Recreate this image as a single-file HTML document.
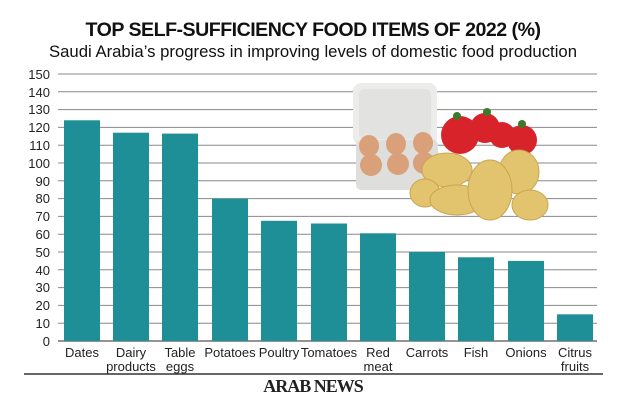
<!DOCTYPE html>
<html><head><meta charset="utf-8"><style>
html,body{margin:0;padding:0;background:#fff;}
svg{display:block;}
text{font-family:"Liberation Sans",sans-serif;}
</style></head><body>
<svg width="626" height="418" viewBox="0 0 626 418" xmlns="http://www.w3.org/2000/svg">
<rect width="626" height="418" fill="#fff"/>
<text x="313" y="36" text-anchor="middle" font-size="19" font-weight="bold" fill="#111" letter-spacing="-0.5" textLength="455" lengthAdjust="spacingAndGlyphs">TOP SELF-SUFFICIENCY FOOD ITEMS OF 2022 (%)</text>
<text x="313" y="57" text-anchor="middle" font-size="16.5" fill="#111" textLength="528" lengthAdjust="spacingAndGlyphs">Saudi Arabia’s progress in improving levels of domestic food production</text>
<g stroke="#888" stroke-width="1">
<line x1="58" y1="74" x2="597" y2="74"/><line x1="58" y1="91.8" x2="597" y2="91.8"/>
<line x1="58" y1="109.6" x2="597" y2="109.6"/><line x1="58" y1="127.4" x2="597" y2="127.4"/>
<line x1="58" y1="145.2" x2="597" y2="145.2"/><line x1="58" y1="163" x2="597" y2="163"/>
<line x1="58" y1="180.8" x2="597" y2="180.8"/><line x1="58" y1="198.6" x2="597" y2="198.6"/>
<line x1="58" y1="216.4" x2="597" y2="216.4"/><line x1="58" y1="234.2" x2="597" y2="234.2"/>
<line x1="58" y1="252" x2="597" y2="252"/><line x1="58" y1="269.8" x2="597" y2="269.8"/>
<line x1="58" y1="287.6" x2="597" y2="287.6"/><line x1="58" y1="305.4" x2="597" y2="305.4"/>
<line x1="58" y1="323.2" x2="597" y2="323.2"/>
</g>
<line x1="58" y1="341" x2="597" y2="341" stroke="#555" stroke-width="1.2"/>
<g font-size="13" fill="#222" text-anchor="end">
<text x="50" y="79">150</text><text x="50" y="97">140</text><text x="50" y="114">130</text>
<text x="50" y="132">120</text><text x="50" y="150">110</text><text x="50" y="168">100</text>
<text x="50" y="186">90</text><text x="50" y="203">80</text><text x="50" y="221">70</text>
<text x="50" y="239">60</text><text x="50" y="257">50</text><text x="50" y="275">40</text>
<text x="50" y="292">30</text><text x="50" y="310">20</text><text x="50" y="328">10</text>
<text x="50" y="346">0</text>
</g>
<g fill="#1e8f96">
<rect x="64" y="120.3" width="36" height="220.7"/>
<rect x="113" y="132.7" width="36" height="208.3"/>
<rect x="162" y="133.6" width="36" height="207.4"/>
<rect x="212" y="198.6" width="36" height="142.4"/>
<rect x="261" y="220.8" width="36" height="120.2"/>
<rect x="311" y="223.5" width="36" height="117.5"/>
<rect x="360" y="233.3" width="36" height="107.7"/>
<rect x="409" y="252" width="36" height="89"/>
<rect x="458" y="257.3" width="36" height="83.7"/>
<rect x="508" y="260.9" width="36" height="80.1"/>
<rect x="557" y="314.3" width="36" height="26.7"/>
</g>
<!-- egg carton -->
<rect x="353" y="83" width="84" height="62" rx="8" fill="#ececea"/>
<rect x="359" y="89" width="72" height="50" rx="5" fill="#e2e2e0"/>
<rect x="356" y="140" width="82" height="50" rx="5" fill="#dededc"/>
<g fill="#d9a07a">
<ellipse cx="369" cy="146" rx="10" ry="11"/><ellipse cx="396" cy="144" rx="10" ry="11"/><ellipse cx="423" cy="143" rx="10" ry="11"/>
<ellipse cx="371" cy="165" rx="11" ry="11"/><ellipse cx="398" cy="164" rx="11" ry="11"/><ellipse cx="424" cy="163" rx="11" ry="11"/>
</g>
<!-- tomatoes -->
<g fill="#d9232a">
<circle cx="485" cy="128" r="15"/><circle cx="502" cy="135" r="13"/>
<circle cx="460" cy="135" r="19"/><circle cx="522" cy="140" r="15"/>
</g>
<g fill="#3a7a2a"><circle cx="457" cy="116" r="4"/><circle cx="487" cy="112" r="4"/><circle cx="522" cy="124" r="4"/></g>
<!-- potatoes -->
<g fill="#e3c46e" stroke="#c9a550" stroke-width="1">
<ellipse cx="447" cy="170" rx="25" ry="17"/>
<ellipse cx="519" cy="172" rx="20" ry="22"/>
<ellipse cx="425" cy="193" rx="15" ry="14"/>
<ellipse cx="457" cy="200" rx="27" ry="15"/>
<ellipse cx="530" cy="205" rx="18" ry="15"/>
<ellipse cx="490" cy="190" rx="22" ry="30"/>
</g>
<g font-size="13" fill="#222" text-anchor="middle">
<text x="82" y="357">Dates</text>
<text x="131" y="357">Dairy</text><text x="131" y="371">products</text>
<text x="180" y="357">Table</text><text x="180" y="371">eggs</text>
<text x="230" y="357">Potatoes</text>
<text x="279" y="357">Poultry</text>
<text x="329" y="357">Tomatoes</text>
<text x="378" y="357">Red</text><text x="378" y="371">meat</text>
<text x="427" y="357">Carrots</text>
<text x="476" y="357">Fish</text>
<text x="526" y="357">Onions</text>
<text x="575" y="357">Citrus</text><text x="575" y="371">fruits</text>
</g>
<line x1="24" y1="374" x2="603" y2="374" stroke="#333" stroke-width="1.5"/>
<text x="313" y="392" text-anchor="middle" font-size="18" font-weight="bold" fill="#222" letter-spacing="-1" style="font-family:'Liberation Serif',serif">ARAB NEWS</text>
</svg>
</body></html>
